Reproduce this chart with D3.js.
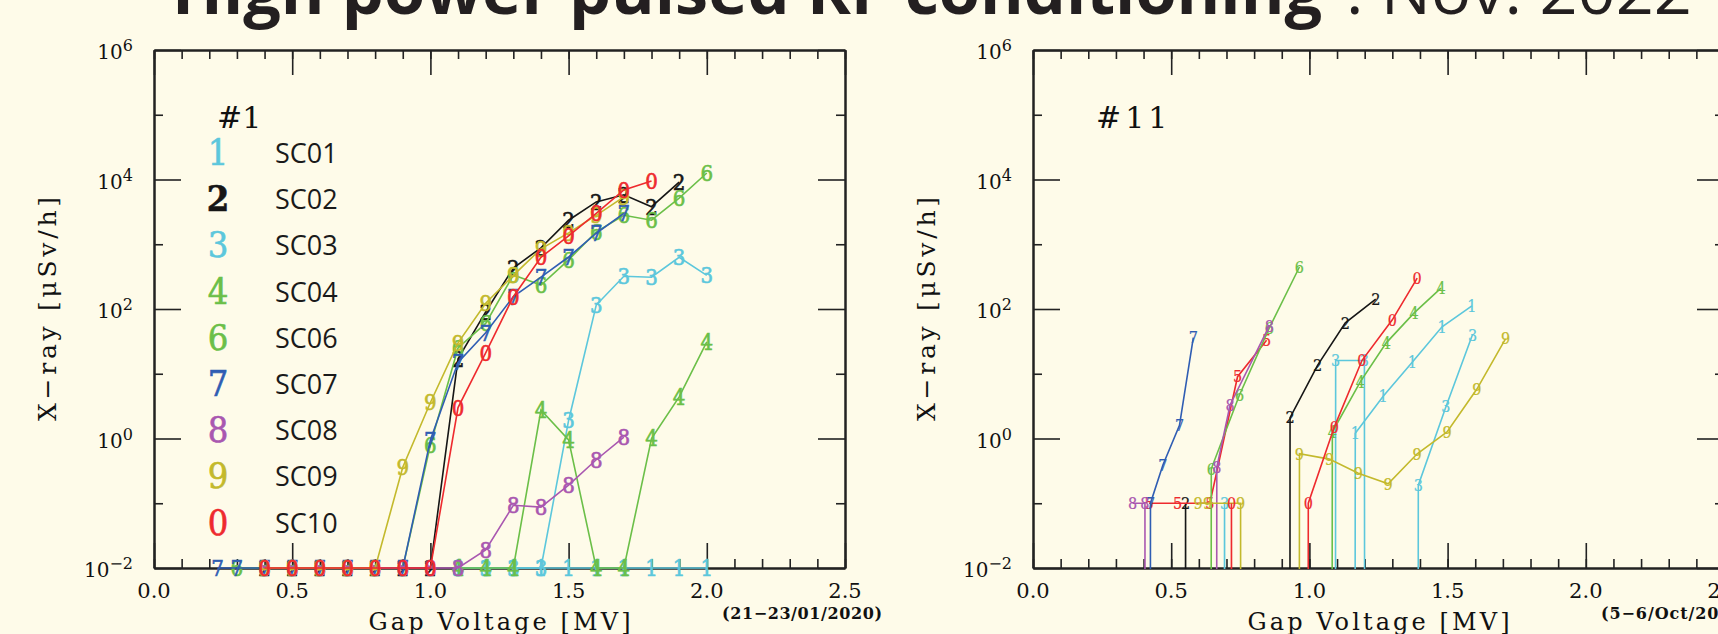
<!DOCTYPE html>
<html lang="en">
<head>
<meta charset="UTF-8">
<title>High power pulsed RF conditioning : Nov. 2022</title>
<script src="https://d3js.org/d3.v7.min.js"></script>
<style>
  body { margin: 0; background: #fefbe9; }
  svg { display: block; }
  .axis path, .axis line { stroke: #222; }
  .axis path { stroke-width: 2; }
  .axis line { stroke-width: 1.6; }
  .axis text { display: none; }
  .tick-label { font-family: 'DejaVu Serif', serif; fill: #111; }
  .mark { font-family: 'DejaVu Serif Condensed', 'DejaVu Serif', serif; font-stretch: condensed; text-anchor: middle; }
</style>
</head>
<body>
<svg id="chart" width="1718" height="634"></svg>
<script>
// ---- data ----
const voltageTicks = [0.0, 0.5, 1.0, 1.5, 2.0, 2.5];
const voltageMinor = d3.range(0, 2.51, 0.1);
const doseMajor = [1e-2, 1e0, 1e2, 1e4, 1e6];
const doseMinor = [1e-1, 1e1, 1e3, 1e5];
const doseExp = ["\u22122", "0", "2", "4", "6"];

const seriesIds = ["1", "2", "3", "4", "5", "6", "7", "8", "9", "0"];
const seriesNames = ["SC01", "SC02", "SC03", "SC04", "SC05", "SC06", "SC07", "SC08", "SC09", "SC10"];
const legendIds = ["1", "2", "3", "4", "6", "7", "8", "9", "0"];

// run #1 (21-23/01/2020): [gap voltage MV, x-ray uSv/h]
const r1_sc01 = [[1.1,0.01],[1.2,0.01],[1.3,0.01],[1.4,0.01],[1.5,0.01],[1.6,0.01],[1.7,0.01],[1.8,0.01],[1.9,0.01],[2.0,0.01]];
const r1_sc02 = [[0.4,0.01],[0.5,0.01],[0.6,0.01],[0.7,0.01],[0.8,0.01],[0.9,0.01],[1.0,0.01],[1.1,17],[1.2,90],[1.3,430],[1.4,880],[1.5,2350],[1.6,4500],[1.7,5800],[1.8,3800],[1.9,9100]];
const r1_sc03 = [[1.1,0.01],[1.2,0.01],[1.3,0.01],[1.4,0.01],[1.5,1.9],[1.6,115],[1.7,320],[1.8,310],[1.9,630],[2.0,330]];
const r1_sc04 = [[1.1,0.01],[1.2,0.01],[1.3,0.01],[1.4,2.75],[1.5,0.95],[1.6,0.01],[1.7,0.01],[1.8,1.0],[1.9,4.4],[2.0,31]];
const r1_sc06 = [[0.3,0.01],[0.4,0.01],[0.5,0.01],[0.6,0.01],[0.7,0.01],[0.8,0.01],[0.9,0.01],[1.0,0.8],[1.1,25],[1.2,60],[1.3,335],[1.4,235],[1.5,575],[1.6,1550],[1.7,2800],[1.8,2350],[1.9,5150],[2.0,12600]];
const r1_sc07 = [[0.23,0.01],[0.3,0.01],[0.4,0.01],[0.5,0.01],[0.6,0.01],[0.7,0.01],[0.8,0.01],[0.9,0.01],[1.0,0.95],[1.1,15],[1.2,43],[1.3,155],[1.4,310],[1.5,635],[1.6,1480],[1.7,3000]];
const r1_sc08 = [[0.4,0.01],[0.5,0.01],[0.6,0.01],[0.7,0.01],[0.8,0.01],[0.9,0.01],[1.0,0.01],[1.1,0.01],[1.2,0.019],[1.3,0.093],[1.4,0.087],[1.5,0.19],[1.6,0.47],[1.7,1.05]];
const r1_sc09 = [[0.4,0.01],[0.5,0.01],[0.6,0.01],[0.7,0.01],[0.8,0.01],[0.9,0.36],[1.0,3.6],[1.1,30],[1.2,123],[1.3,330],[1.4,850],[1.5,1500],[1.6,2800],[1.7,5400]];
const r1_sc10 = [[0.4,0.01],[0.5,0.01],[0.6,0.01],[0.7,0.01],[0.8,0.01],[0.9,0.01],[1.0,0.01],[1.1,3.0],[1.2,21],[1.3,155],[1.4,630],[1.5,1350],[1.6,3000],[1.7,6900],[1.8,9500]];

// run #11 (5-6/Oct/2020): 0 = no reading
const r11_sc01 = [[1.10,0],[1.166,1.2],[1.267,4.5],[1.372,15],[1.48,53],[1.588,112]];
const r11_sc02 = [[0.50,0],[0.552,0.1],[0.60,0],[0.90,0],[0.93,2.1],[1.03,13.6],[1.13,61],[1.24,142]];
const r11_sc03 = [[0.65,0],[0.693,0.1],[0.75,0],[1.05,0],[1.095,16],[1.199,16],[1.25,0],[1.35,0],[1.394,0.19],[1.494,3.1],[1.59,40]];
const r11_sc04 = [[1.0,0],[1.083,1.26],[1.184,7.5],[1.278,30],[1.379,87],[1.476,210]];
const r11_sc05 = [[0.42,0.1],[0.523,0.1],[0.64,0.1],[0.74,9],[0.845,33]];
const r11_sc06 = [[0.60,0],[0.645,0.34],[0.747,4.7],[0.855,51],[0.964,445]];
const r11_sc07 = [[0.38,0],[0.425,0.1],[0.47,0.39],[0.53,1.6],[0.58,36]];
const r11_sc08 = [[0.36,0.1],[0.405,0.1],[0.45,0],[0.62,0],[0.665,0.36],[0.713,3.3],[0.855,55]];
const r11_sc09 = [[0.597,0.1],[0.632,0.1],[0.751,0.1],[0.80,0],[0.92,0],[0.964,0.58],[1.072,0.48],[1.177,0.29],[1.285,0.2],[1.39,0.58],[1.498,1.26],[1.606,5.8],[1.71,35]];
const r11_sc10 = [[0.68,0],[0.718,0.1],[0.76,0],[0.95,0],[0.996,0.1],[1.09,1.5],[1.19,16],[1.30,68],[1.39,300]];

const colors = {"1": "#5cc7dc", "2": "#161616", "3": "#5cc7dc", "4": "#6bbf48", "5": "#ee2a2e",
                "6": "#6bbf48", "7": "#2f5db3", "8": "#a957b0", "9": "#c3b92c", "0": "#ee2a2e"};

const run1 = [r1_sc01, r1_sc02, r1_sc03, r1_sc04, null, r1_sc06, r1_sc07, r1_sc08, r1_sc09, r1_sc10];
const run11 = [r11_sc01, r11_sc02, r11_sc03, r11_sc04, r11_sc05, r11_sc06, r11_sc07, r11_sc08, r11_sc09, r11_sc10];

// ---- drawing ----
const svg = d3.select("#chart");
const plotTop = 50, plotBottom = 568, plotWidth = 691;

// title (cut at the top edge like the slide)
svg.append("text").attr("x", 172).attr("y", 14).attr("fill", "#231f20")
    .style("font-family", "'Open Sans', sans-serif").style("font-size", "64px")
    .attr("font-weight", "bold")
    .attr("textLength", 1150).attr("lengthAdjust", "spacingAndGlyphs")
    .text("High power pulsed RF conditioning");
svg.append("text").attr("x", 1346).attr("y", 14).attr("fill", "#231f20")
    .style("font-family", "'Open Sans', sans-serif").style("font-size", "64px")
    .attr("textLength", 346).attr("lengthAdjust", "spacingAndGlyphs")
    .text(": Nov. 2022");

function drawPanel(p) {
    const x = d3.scaleLinear().domain([0, 2.5]).range([p.left, p.left + plotWidth]);
    const y = d3.scaleLog().domain([1e-2, 1e6]).range([plotBottom, plotTop]);
    const g = svg.append("g");

    // frame with inward ticks
    const ax = [
        [d3.axisBottom(x).tickValues(voltageTicks).tickSize(-25), plotBottom, "x"],
        [d3.axisBottom(x).tickValues(voltageMinor).tickSize(-9), plotBottom, "x"],
        [d3.axisTop(x).tickValues(voltageTicks).tickSize(-25), plotTop, "x"],
        [d3.axisTop(x).tickValues(voltageMinor).tickSize(-9), plotTop, "x"],
        [d3.axisLeft(y).tickValues(doseMajor).tickSize(-27), p.left, "y"],
        [d3.axisLeft(y).tickValues(doseMinor).tickSize(-9), p.left, "y"],
        [d3.axisRight(y).tickValues(doseMajor).tickSize(-27), p.left + plotWidth, "y"],
        [d3.axisRight(y).tickValues(doseMinor).tickSize(-9), p.left + plotWidth, "y"]
    ];
    ax.forEach(([a, pos, dir]) => {
        g.append("g").attr("class", "axis")
            .attr("transform", dir === "x" ? `translate(0,${pos})` : `translate(${pos},0)`)
            .call(a.tickSizeOuter(0));
    });

    // tick labels
    voltageTicks.forEach(v => {
        g.append("text").attr("class", "tick-label")
            .attr("x", x(v)).attr("y", 598).attr("text-anchor", "middle")
            .style("font-size", "21px").text(v.toFixed(1));
    });
    doseMajor.forEach((d, i) => {
        const t = g.append("text").attr("class", "tick-label")
            .attr("x", p.left - 21).attr("y", y(d) + 9).attr("text-anchor", "end")
            .style("font-size", "20px");
        t.append("tspan").text("10");
        t.append("tspan").attr("dy", -8).style("font-size", "16px").text(doseExp[i]);
    });

    // axis titles
    g.append("text").attr("class", "tick-label")
        .attr("x", x(1.25)).attr("y", 630).attr("text-anchor", "middle")
        .attr("textLength", 262).style("font-size", "24px")
        .text("Gap Voltage [MV]");
    g.append("text").attr("class", "tick-label")
        .attr("transform", `translate(${p.left - 98},${(plotTop + plotBottom) / 2}) rotate(-90)`)
        .attr("text-anchor", "middle").attr("textLength", 224).style("font-size", "25px")
        .text("X\u2212ray [\u03bcSv/h]");
    g.append("text").attr("class", "tick-label")
        .attr("x", p.left + 568).attr("y", 619).attr("font-weight", "bold")
        .attr("textLength", p.dateLength).style("font-size", "16px").text(p.date);

    g.append("text").attr("class", "tick-label")
        .attr("x", p.left + 63).attr("y", 128).style("font-size", "30px")
        .attr("letter-spacing", p.runSpacing).text(p.run);

    // series
    const clipId = "clip" + p.left;
    svg.append("clipPath").attr("id", clipId).append("rect")
        .attr("x", p.left).attr("y", plotTop).attr("width", plotWidth).attr("height", plotBottom - plotTop + 1);
    const line = d3.line().x(d => x(d[0])).y(d => y(d[1] > 0 ? d[1] : 1e-300));

    p.series.forEach((s, i) => {
        if (!s) return;
        const id = seriesIds[i];
        g.append("path").datum(s).attr("clip-path", `url(#${clipId})`)
            .attr("fill", "none").attr("stroke", colors[id]).attr("stroke-width", 1.6)
            .attr("d", line);
        g.selectAll(null).data(s.filter(d => d[1] > 0)).join("text")
            .attr("class", "mark").attr("fill", colors[id])
            .attr("stroke", colors[id]).attr("stroke-width", p.markStroke)
            .attr("x", d => x(d[0])).attr("y", d => y(d[1])).attr("dy", "0.36em")
            .style("font-size", p.markSize + "px").text(id);
    });

    // legend
    if (p.legend) {
        legendIds.forEach((id, i) => {
            const yy = 163 + i * 46.2;
            g.append("text").attr("class", "mark").attr("fill", colors[id])
                .attr("stroke", colors[id]).attr("stroke-width", 0.6)
                .attr("x", 218).attr("y", yy + 2).style("font-size", "36px")
                .attr("font-weight", id === "2" ? "bold" : "normal").text(id);
            g.append("text").attr("x", 275).attr("y", yy).attr("fill", "#1a1a1a")
                .style("font-family", "'Open Sans', sans-serif").style("font-size", "27px")
                .text(seriesNames[seriesIds.indexOf(id)]);
        });
    }
}

drawPanel({left: 154, series: run1, markSize: 22, markStroke: 0.6, legend: true, run: "#1", runSpacing: 0,
           date: "(21\u221223/01/2020)", dateLength: 160});
drawPanel({left: 1033, series: run11, markSize: 16, markStroke: 0.2, legend: false, run: "#11", runSpacing: 4,
           date: "(5\u22126/Oct/2020)", dateLength: 150});
</script>
</body>
</html>
